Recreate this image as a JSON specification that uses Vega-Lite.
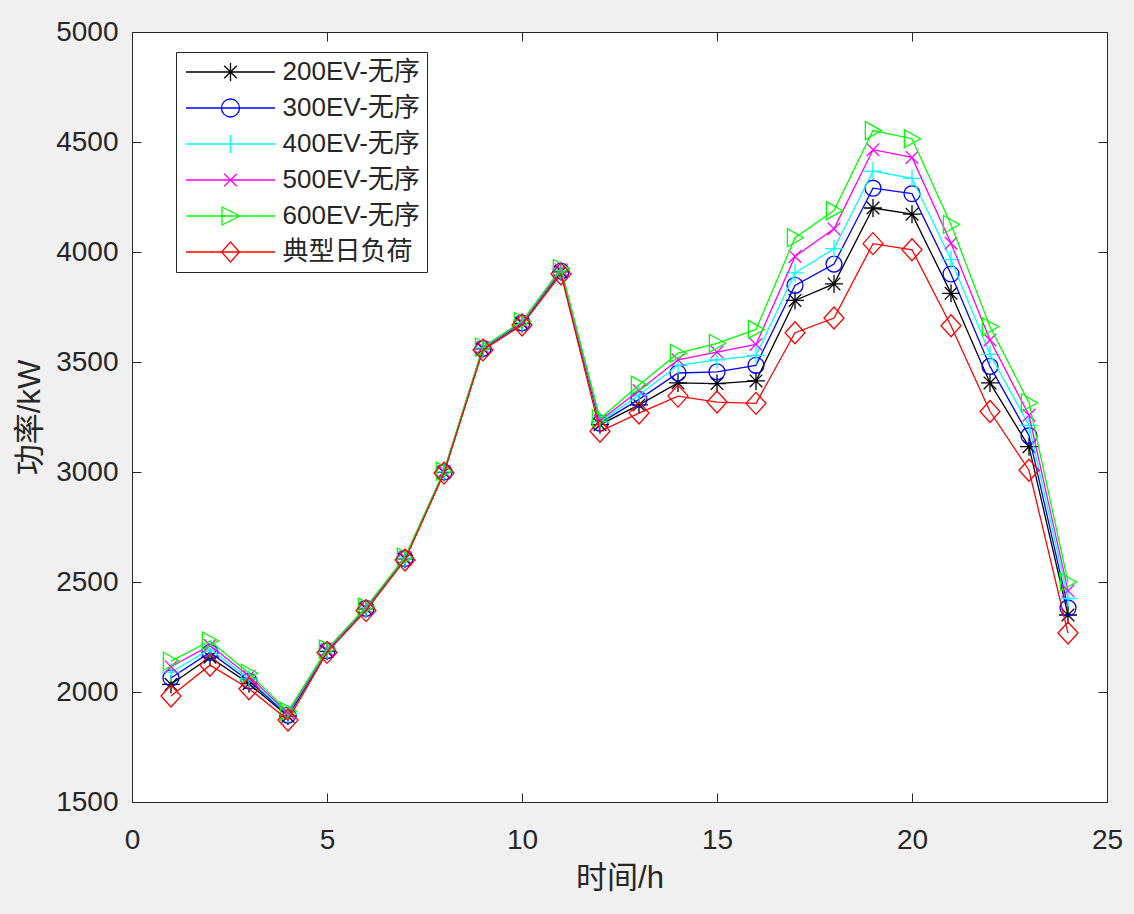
{
  "$schema": "https://vega.github.io/schema/vega-lite/v6.json",
  "width": 975,
  "height": 770,
  "autosize": {"type": "none"},
  "padding": {"left": 132, "top": 32, "right": 27, "bottom": 112},
  "background": "#f0f0f0",
  "config": {
    "view": {"fill": "white", "stroke": "#262626", "strokeWidth": 1},
    "axis": {
      "grid": false, "domain": false, "tickColor": "#262626", "tickSize": -9, "tickWidth": 1,
      "labelColor": "#262626", "labelFont": "Liberation Sans", "labelFontSize": 28, "labelFlush": false, "labelOverlap": false,
      "titleFont": "Liberation Sans, Noto Sans CJK SC", "titleFontSize": 31, "titleFontWeight": "normal", "titleColor": "#262626"
    },
    "legend": {
      "strokeColor": "#262626", "fillColor": "white", "padding": 7,
      "labelFont": "Liberation Sans, Noto Sans CJK SC", "labelFontSize": 26, "labelColor": "#262626",
      "symbolSize": 400, "symbolOffset": 34.5, "symbolStrokeWidth": 1.3, "labelOffset": 39, "rowPadding": 10, "symbolOpacity": 1
    }
  },
  "data": {"values": [
    {"h":1,"s":"200EV-无序","p":2035},{"h":2,"s":"200EV-无序","p":2158},{"h":3,"s":"200EV-无序","p":2038},{"h":4,"s":"200EV-无序","p":1890},{"h":5,"s":"200EV-无序","p":2185},{"h":6,"s":"200EV-无序","p":2378},{"h":7,"s":"200EV-无序","p":2605},{"h":8,"s":"200EV-无序","p":2998},{"h":9,"s":"200EV-无序","p":3560},{"h":10,"s":"200EV-无序","p":3675},{"h":11,"s":"200EV-无序","p":3910},{"h":12,"s":"200EV-无序","p":3215},{"h":13,"s":"200EV-无序","p":3305},{"h":14,"s":"200EV-无序","p":3405},{"h":15,"s":"200EV-无序","p":3402},{"h":16,"s":"200EV-无序","p":3414},{"h":17,"s":"200EV-无序","p":3780},{"h":18,"s":"200EV-无序","p":3855},{"h":19,"s":"200EV-无序","p":4200},{"h":20,"s":"200EV-无序","p":4172},{"h":21,"s":"200EV-无序","p":3812},{"h":22,"s":"200EV-无序","p":3405},{"h":23,"s":"200EV-无序","p":3115},{"h":24,"s":"200EV-无序","p":2350},
    {"h":1,"s":"300EV-无序","p":2064},{"h":2,"s":"300EV-无序","p":2180},{"h":3,"s":"300EV-无序","p":2050},{"h":4,"s":"300EV-无序","p":1895},{"h":5,"s":"300EV-无序","p":2188},{"h":6,"s":"300EV-无序","p":2380},{"h":7,"s":"300EV-无序","p":2607},{"h":8,"s":"300EV-无序","p":3000},{"h":9,"s":"300EV-无序","p":3562},{"h":10,"s":"300EV-无序","p":3678},{"h":11,"s":"300EV-无序","p":3913},{"h":12,"s":"300EV-无序","p":3222},{"h":13,"s":"300EV-无序","p":3330},{"h":14,"s":"300EV-无序","p":3450},{"h":15,"s":"300EV-无序","p":3455},{"h":16,"s":"300EV-无序","p":3485},{"h":17,"s":"300EV-无序","p":3848},{"h":18,"s":"300EV-无序","p":3945},{"h":19,"s":"300EV-无序","p":4290},{"h":20,"s":"300EV-无序","p":4265},{"h":21,"s":"300EV-无序","p":3900},{"h":22,"s":"300EV-无序","p":3480},{"h":23,"s":"300EV-无序","p":3165},{"h":24,"s":"300EV-无序","p":2382},
    {"h":1,"s":"400EV-无序","p":2090},{"h":2,"s":"400EV-无序","p":2195},{"h":3,"s":"400EV-无序","p":2060},{"h":4,"s":"400EV-无序","p":1900},{"h":5,"s":"400EV-无序","p":2190},{"h":6,"s":"400EV-无序","p":2382},{"h":7,"s":"400EV-无序","p":2609},{"h":8,"s":"400EV-无序","p":3001},{"h":9,"s":"400EV-无序","p":3564},{"h":10,"s":"400EV-无序","p":3680},{"h":11,"s":"400EV-无序","p":3916},{"h":12,"s":"400EV-无序","p":3228},{"h":13,"s":"400EV-无序","p":3350},{"h":14,"s":"400EV-无序","p":3485},{"h":15,"s":"400EV-无序","p":3510},{"h":16,"s":"400EV-无序","p":3530},{"h":17,"s":"400EV-无序","p":3905},{"h":18,"s":"400EV-无序","p":4015},{"h":19,"s":"400EV-无序","p":4368},{"h":20,"s":"400EV-无序","p":4335},{"h":21,"s":"400EV-无序","p":3965},{"h":22,"s":"400EV-无序","p":3535},{"h":23,"s":"400EV-无序","p":3212},{"h":24,"s":"400EV-无序","p":2425},
    {"h":1,"s":"500EV-无序","p":2115},{"h":2,"s":"500EV-无序","p":2212},{"h":3,"s":"500EV-无序","p":2072},{"h":4,"s":"500EV-无序","p":1905},{"h":5,"s":"500EV-无序","p":2192},{"h":6,"s":"500EV-无序","p":2384},{"h":7,"s":"500EV-无序","p":2611},{"h":8,"s":"500EV-无序","p":3002},{"h":9,"s":"500EV-无序","p":3566},{"h":10,"s":"500EV-无序","p":3682},{"h":11,"s":"500EV-无序","p":3919},{"h":12,"s":"500EV-无序","p":3234},{"h":13,"s":"500EV-无序","p":3370},{"h":14,"s":"500EV-无序","p":3510},{"h":15,"s":"500EV-无序","p":3545},{"h":16,"s":"500EV-无序","p":3580},{"h":17,"s":"500EV-无序","p":3980},{"h":18,"s":"500EV-无序","p":4105},{"h":19,"s":"500EV-无序","p":4465},{"h":20,"s":"500EV-无序","p":4430},{"h":21,"s":"500EV-无序","p":4040},{"h":22,"s":"500EV-无序","p":3600},{"h":23,"s":"500EV-无序","p":3258},{"h":24,"s":"500EV-无序","p":2460},
    {"h":1,"s":"600EV-无序","p":2140},{"h":2,"s":"600EV-无序","p":2232},{"h":3,"s":"600EV-无序","p":2085},{"h":4,"s":"600EV-无序","p":1912},{"h":5,"s":"600EV-无序","p":2195},{"h":6,"s":"600EV-无序","p":2386},{"h":7,"s":"600EV-无序","p":2613},{"h":8,"s":"600EV-无序","p":3004},{"h":9,"s":"600EV-无序","p":3568},{"h":10,"s":"600EV-无序","p":3685},{"h":11,"s":"600EV-无序","p":3925},{"h":12,"s":"600EV-无序","p":3242},{"h":13,"s":"600EV-无序","p":3395},{"h":14,"s":"600EV-无序","p":3540},{"h":15,"s":"600EV-无序","p":3585},{"h":16,"s":"600EV-无序","p":3648},{"h":17,"s":"600EV-无序","p":4065},{"h":18,"s":"600EV-无序","p":4188},{"h":19,"s":"600EV-无序","p":4552},{"h":20,"s":"600EV-无序","p":4515},{"h":21,"s":"600EV-无序","p":4125},{"h":22,"s":"600EV-无序","p":3660},{"h":23,"s":"600EV-无序","p":3315},{"h":24,"s":"600EV-无序","p":2500},
    {"h":1,"s":"典型日负荷","p":1982},{"h":2,"s":"典型日负荷","p":2122},{"h":3,"s":"典型日负荷","p":2015},{"h":4,"s":"典型日负荷","p":1873},{"h":5,"s":"典型日负荷","p":2180},{"h":6,"s":"典型日负荷","p":2370},{"h":7,"s":"典型日负荷","p":2600},{"h":8,"s":"典型日负荷","p":2995},{"h":9,"s":"典型日负荷","p":3555},{"h":10,"s":"典型日负荷","p":3668},{"h":11,"s":"典型日负荷","p":3900},{"h":12,"s":"典型日负荷","p":3185},{"h":13,"s":"典型日负荷","p":3268},{"h":14,"s":"典型日负荷","p":3345},{"h":15,"s":"典型日负荷","p":3318},{"h":16,"s":"典型日负荷","p":3312},{"h":17,"s":"典型日负荷","p":3633},{"h":18,"s":"典型日负荷","p":3700},{"h":19,"s":"典型日负荷","p":4038},{"h":20,"s":"典型日负荷","p":4010},{"h":21,"s":"典型日负荷","p":3665},{"h":22,"s":"典型日负荷","p":3275},{"h":23,"s":"典型日负荷","p":3008},{"h":24,"s":"典型日负荷","p":2268}
  ]},
  "layer": [
    {
      "transform": [{"filter": "datum.s === '200EV-无序'"}],
      "mark": {"type": "line", "color": "#000000", "strokeWidth": 1.3, "point": {"shape": "M-1,0H1M0,-1V1M-0.7,-0.7L0.7,0.7M-0.7,0.7L0.7,-0.7", "size": 324, "filled": false, "color": "#000000", "strokeWidth": 1.3}},
      "encoding": {
        "x": {"field": "h", "type": "quantitative", "scale": {"domain": [0, 25], "nice": false, "zero": false}, "axis": {"orient": "bottom", "values": [0, 5, 10, 15, 20, 25], "title": "时间/h", "labelPadding": 33, "titlePadding": 9}},
        "y": {"field": "p", "type": "quantitative", "scale": {"domain": [1500, 5000], "nice": false, "zero": false}, "axis": {"orient": "left", "format": "d", "values": [1500, 2000, 2500, 3000, 3500, 4000, 4500, 5000], "title": "功率/kW", "labelPadding": 23, "titlePadding": 9}}
      }
    },
    {
      "transform": [{"filter": "datum.s === '300EV-无序'"}],
      "mark": {"type": "line", "color": "#0000ff", "strokeWidth": 1.3, "point": {"shape": "circle", "size": 254, "filled": false, "color": "#0000ff", "strokeWidth": 1.3}},
      "encoding": {
        "x": {"field": "h", "type": "quantitative", "axis": null},
        "y": {"field": "p", "type": "quantitative", "axis": null}
      }
    },
    {
      "transform": [{"filter": "datum.s === '400EV-无序'"}],
      "mark": {"type": "line", "color": "#00ffff", "strokeWidth": 1.3, "point": {"shape": "M-1,0H1M0,-1V1", "size": 324, "filled": false, "color": "#00ffff", "strokeWidth": 1.3}},
      "encoding": {
        "x": {"field": "h", "type": "quantitative", "axis": null},
        "y": {"field": "p", "type": "quantitative", "axis": null}
      }
    },
    {
      "transform": [{"filter": "datum.s === '500EV-无序'"}],
      "mark": {"type": "line", "color": "#ff00ff", "strokeWidth": 1.3, "point": {"shape": "M-0.7,-0.7L0.7,0.7M-0.7,0.7L0.7,-0.7", "size": 324, "filled": false, "color": "#ff00ff", "strokeWidth": 1.3}},
      "encoding": {
        "x": {"field": "h", "type": "quantitative", "axis": null},
        "y": {"field": "p", "type": "quantitative", "axis": null}
      }
    },
    {
      "transform": [{"filter": "datum.s === '600EV-无序'"}],
      "mark": {"type": "line", "color": "#00ff00", "strokeWidth": 1.3, "point": {"shape": "M-0.85,-1L0.95,0L-0.85,1Z", "size": 324, "filled": false, "color": "#00ff00", "strokeWidth": 1.3}},
      "encoding": {
        "x": {"field": "h", "type": "quantitative", "axis": null},
        "y": {"field": "p", "type": "quantitative", "axis": null}
      }
    },
    {
      "transform": [{"filter": "datum.s === '典型日负荷'"}],
      "mark": {"type": "line", "color": "#ff0000", "strokeWidth": 1.3, "point": {"shape": "M0,-1.1L1,0L0,1.1L-1,0Z", "size": 400, "filled": false, "color": "#ff0000", "strokeWidth": 1.3}},
      "encoding": {
        "x": {"field": "h", "type": "quantitative", "axis": null},
        "y": {"field": "p", "type": "quantitative", "axis": null}
      }
    },
    {
      "transform": [{"filter": "datum.h > 99"}],
      "mark": {"type": "point", "filled": false, "strokeWidth": 1.3},
      "encoding": {
        "x": {"field": "h", "type": "quantitative", "axis": {"orient": "top", "labels": false, "title": null, "values": [0, 5, 10, 15, 20, 25]}},
        "y": {"field": "p", "type": "quantitative", "axis": {"orient": "right", "labels": false, "title": null, "values": [1500, 2000, 2500, 3000, 3500, 4000, 4500, 5000]}},
        "color": {
          "field": "s", "type": "nominal", "title": null,
          "scale": {"domain": ["200EV-无序", "300EV-无序", "400EV-无序", "500EV-无序", "600EV-无序", "典型日负荷"], "range": ["#000000", "#0000ff", "#00ffff", "#ff00ff", "#00ff00", "#ff0000"]},
          "legend": {"orient": "none", "legendX": 44, "legendY": 20}
        },
        "shape": {
          "field": "s", "type": "nominal", "title": null,
          "scale": {"domain": ["200EV-无序", "300EV-无序", "400EV-无序", "500EV-无序", "600EV-无序", "典型日负荷"], "range": [
            "M-4.45,0H4.45M-0.9,0H0.9M0,-0.9V0.9M-0.63,-0.63L0.63,0.63M-0.63,0.63L0.63,-0.63",
            "M-4.45,0H4.45M0.9,0A0.9,0.9,0,1,1,-0.9,0A0.9,0.9,0,1,1,0.9,0",
            "M-4.45,0H4.45M0,-0.9V0.9",
            "M-4.45,0H4.45M-0.63,-0.63L0.63,0.63M-0.63,0.63L0.63,-0.63",
            "M-4.45,0H4.45M-0.85,-0.9L0.95,0L-0.85,0.9Z",
            "M-4.45,0H4.45M0,-1L0.9,0L0,1L-0.9,0Z"
          ]},
          "legend": {"orient": "none", "legendX": 44, "legendY": 20}
        }
      }
    }
  ],
  "resolve": {"axis": {"x": "independent", "y": "independent"}}
}
